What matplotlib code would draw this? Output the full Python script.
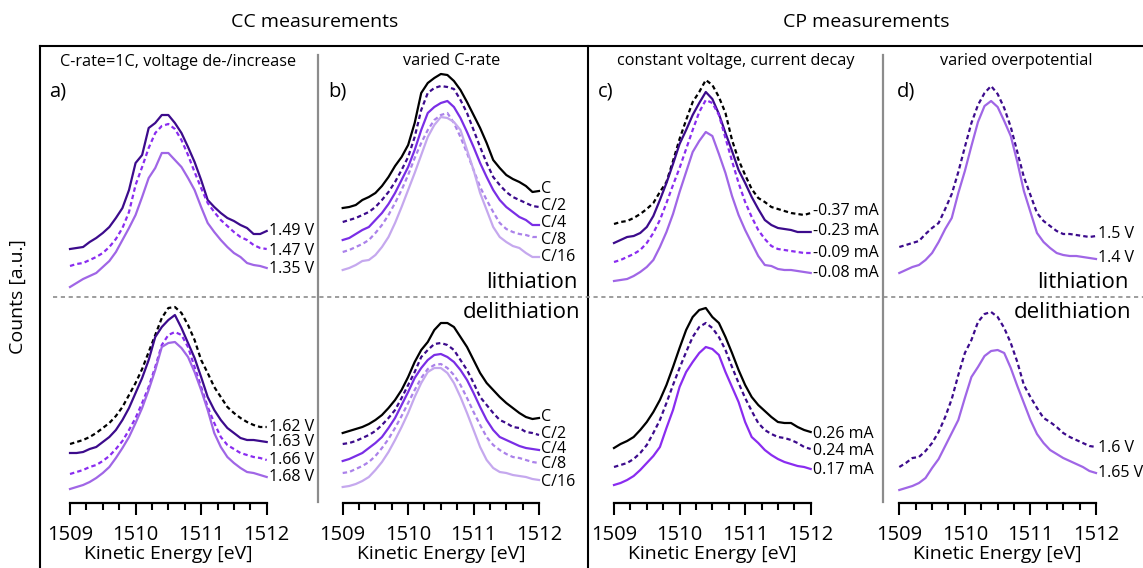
import numpy as np
import matplotlib
matplotlib.use("Agg")
import matplotlib.pyplot as plt
from matplotlib.lines import Line2D

plt.rcParams['font.family'] = ['Open Sans', 'DejaVu Sans']

W, H = 1143, 568

# energy grid, 0.1 eV steps
energy = np.linspace(1509, 1512, 31)

# ---- panel a (C-rate = 1C) ----
a_li_149 = [48, 49, 50, 55, 59, 64, 70, 79, 89, 107, 134, 142, 169, 174, 182, 182,
            174, 164, 150, 135, 117, 97, 90, 84, 79, 76, 72, 69, 63, 63, 66]
a_li_147 = [31, 33, 34, 37, 40, 44, 50, 58, 69, 85, 112, 130, 149, 164, 171, 173,
            168, 157, 142, 125, 109, 94, 85, 77, 71, 65, 60, 57, 52, 49, 48]
a_li_135 = [10, 14, 18, 21, 24, 30, 36, 45, 57, 69, 82, 100, 119, 129, 144, 144,
            137, 130, 119, 107, 90, 74, 65, 57, 50, 44, 40, 34, 32, 31, 29]
a_de_162 = [59, 61, 63, 66, 70, 75, 80, 87, 96, 108, 120, 134, 151, 168, 185, 195,
            196, 190, 178, 163, 143, 130, 116, 106, 96, 90, 85, 81, 78, 76, 76]
a_de_163 = [50, 50, 51, 54, 56, 61, 66, 73, 83, 95, 110, 125, 143, 166, 176, 183,
            188, 175, 160, 145, 126, 106, 93, 83, 75, 70, 65, 63, 63, 62, 61]
a_de_166 = [29, 31, 33, 36, 38, 42, 47, 54, 62, 73, 85, 100, 116, 136, 158, 168,
            171, 168, 156, 136, 116, 96, 80, 66, 58, 54, 50, 48, 46, 45, 43]
a_de_168 = [14, 16, 18, 21, 25, 30, 36, 45, 55, 66, 80, 95, 113, 133, 156, 160,
            161, 155, 146, 131, 113, 93, 70, 56, 46, 40, 35, 31, 30, 28, 26]

# ---- panel b (varied C-rate) ----
b_li_c1 = [89, 90, 92, 97, 100, 104, 111, 120, 131, 140, 152, 174, 204, 214, 219, 223,
           222, 216, 207, 195, 182, 169, 154, 137, 129, 122, 118, 115, 111, 105, 106]
b_li_c2 = [75, 77, 79, 82, 85, 90, 97, 105, 115, 127, 140, 160, 187, 204, 209, 211,
           210, 208, 197, 184, 167, 150, 134, 120, 112, 105, 100, 97, 94, 91, 90]
b_li_c4 = [57, 59, 63, 67, 70, 77, 84, 93, 104, 117, 130, 147, 167, 184, 190, 194,
           196, 190, 179, 165, 150, 134, 120, 107, 97, 90, 85, 80, 77, 72, 72]
b_li_c8 = [45, 47, 50, 53, 57, 64, 72, 82, 94, 107, 122, 139, 154, 167, 177, 182,
           184, 174, 160, 144, 127, 110, 97, 85, 74, 68, 65, 63, 62, 60, 60]
b_li_c16 = [27, 29, 32, 36, 37, 42, 50, 60, 74, 90, 107, 124, 142, 160, 172, 180,
            179, 175, 167, 147, 127, 104, 87, 70, 60, 55, 51, 49, 44, 40, 40]
b_de_c1 = [70, 72, 74, 76, 79, 83, 88, 95, 103, 113, 126, 141, 153, 161, 173, 180,
           180, 176, 166, 156, 143, 130, 120, 113, 106, 100, 95, 90, 86, 84, 85]
b_de_c2 = [59, 60, 62, 65, 68, 72, 78, 85, 93, 105, 118, 131, 146, 153, 159, 160,
           158, 153, 143, 133, 120, 106, 98, 90, 83, 80, 76, 75, 71, 70, 68]
b_de_c4 = [42, 44, 47, 50, 55, 60, 66, 75, 85, 98, 111, 125, 135, 143, 148, 149,
           146, 141, 133, 123, 110, 96, 83, 73, 66, 63, 60, 57, 55, 54, 53]
b_de_c8 = [30, 31, 34, 37, 41, 47, 55, 64, 75, 87, 100, 113, 125, 134, 138, 139,
           135, 128, 118, 105, 91, 78, 66, 58, 53, 49, 46, 45, 43, 41, 40]
b_de_c16 = [16, 17, 19, 22, 26, 33, 41, 51, 63, 76, 90, 106, 120, 131, 135, 135,
            130, 120, 106, 90, 73, 56, 43, 35, 31, 30, 28, 27, 26, 24, 23]

# ---- panel c (constant voltage, current decay) ----
c_li_037 = [73, 75, 76, 79, 83, 88, 94, 105, 115, 136, 158, 177, 195, 205, 217, 212,
            200, 184, 157, 137, 122, 108, 99, 95, 90, 88, 86, 84, 83, 82, 84]
c_li_023 = [54, 57, 60, 61, 64, 70, 81, 97, 114, 133, 153, 167, 182, 194, 205, 198,
            183, 164, 146, 127, 114, 100, 88, 77, 72, 69, 68, 67, 65, 65, 65]
c_li_009 = [35, 37, 40, 43, 47, 54, 64, 77, 94, 112, 129, 148, 167, 185, 197, 194,
            182, 159, 136, 114, 95, 80, 67, 58, 51, 48, 47, 46, 45, 44, 44]
c_li_008 = [16, 17, 18, 21, 25, 30, 37, 50, 65, 83, 105, 125, 145, 156, 165, 161,
            143, 124, 101, 82, 67, 54, 41, 32, 31, 28, 27, 27, 26, 25, 24]
c_de_026 = [55, 59, 62, 66, 73, 81, 91, 103, 118, 136, 155, 173, 186, 193, 195, 186,
            180, 166, 150, 133, 118, 106, 98, 92, 86, 81, 80, 80, 76, 73, 71]
c_de_024 = [36, 38, 40, 44, 50, 58, 70, 83, 100, 118, 135, 151, 166, 176, 180, 175,
            166, 153, 136, 120, 105, 92, 80, 73, 69, 66, 65, 63, 60, 56, 54]
c_de_017 = [18, 20, 23, 27, 33, 40, 47, 56, 75, 93, 116, 131, 141, 150, 156, 154,
            148, 131, 116, 101, 81, 66, 60, 53, 48, 44, 41, 39, 37, 36, 34]

# ---- panel d (varied overpotential) ----
d_li_15 = [50, 52, 54, 56, 63, 69, 74, 88, 103, 125, 150, 174, 192, 204, 211, 203,
           189, 170, 145, 120, 102, 84, 76, 71, 66, 63, 63, 62, 61, 60, 61]
d_li_14 = [24, 27, 30, 32, 37, 44, 55, 68, 79, 104, 126, 151, 175, 191, 196, 190,
           176, 161, 135, 106, 85, 64, 55, 49, 44, 42, 41, 41, 40, 39, 38]
d_de_16 = [36, 40, 45, 46, 52, 60, 71, 86, 104, 128, 150, 163, 181, 189, 191, 186,
           175, 160, 141, 118, 106, 95, 85, 81, 76, 70, 66, 63, 60, 57, 56]
d_de_165 = [13, 15, 17, 20, 25, 35, 44, 57, 70, 83, 105, 126, 136, 147, 152, 153,
            150, 135, 117, 100, 83, 69, 60, 53, 49, 45, 42, 39, 36, 32, 30]

BLACK = '#000000'
DARK = '#3c0b8c'
MID = '#8a2cf0'
LIGHT = '#a066e6'
VIOLET = '#7a2ee6'
PALE = '#ab82ea'
PALEST = '#c5a8ee'

SOLID = '-'
DASH = (0, (2.0, 1.4))

# (values, label, colour, style, label shift in px)
panels = {
    ('a', 'top'): [(a_li_149, '1.49 V', DARK, SOLID, 0),
                   (a_li_147, '1.47 V', MID, DASH, -2),
                   (a_li_135, '1.35 V', LIGHT, SOLID, -1)],
    ('a', 'bot'): [(a_de_162, '1.62 V', BLACK, DASH, 0),
                   (a_de_163, '1.63 V', DARK, SOLID, 0),
                   (a_de_166, '1.66 V', MID, DASH, 0),
                   (a_de_168, '1.68 V', LIGHT, SOLID, 0)],
    ('b', 'top'): [(b_li_c1, 'C', BLACK, SOLID, 2),
                   (b_li_c2, 'C/2', DARK, DASH, 1),
                   (b_li_c4, 'C/4', VIOLET, SOLID, 2),
                   (b_li_c8, 'C/8', PALE, DASH, -3),
                   (b_li_c16, 'C/16', PALEST, SOLID, 0)],
    ('b', 'bot'): [(b_de_c1, 'C', BLACK, SOLID, 1),
                   (b_de_c2, 'C/2', DARK, DASH, 1),
                   (b_de_c4, 'C/4', VIOLET, SOLID, 1),
                   (b_de_c8, 'C/8', PALE, DASH, -1),
                   (b_de_c16, 'C/16', PALEST, SOLID, -2)],
    ('c', 'top'): [(c_li_037, '-0.37 mA', BLACK, DASH, 2),
                   (c_li_023, '-0.23 mA', DARK, SOLID, 1),
                   (c_li_009, '-0.09 mA', MID, DASH, 0),
                   (c_li_008, '-0.08 mA', LIGHT, SOLID, 0)],
    ('c', 'bot'): [(c_de_026, '0.26 mA', BLACK, SOLID, -2),
                   (c_de_024, '0.24 mA', DARK, DASH, -2),
                   (c_de_017, '0.17 mA', MID, SOLID, -1)],
    ('d', 'top'): [(d_li_15, '1.5 V', DARK, DASH, 2),
                   (d_li_14, '1.4 V', LIGHT, SOLID, 1)],
    ('d', 'bot'): [(d_de_16, '1.6 V', DARK, DASH, -1),
                   (d_de_165, '1.65 V', LIGHT, SOLID, 0)],
}

# pixel extents of the energy axis in each column
col_px = {'a': (70, 266.7), 'b': (342.7, 539), 'c': (614, 810.7), 'd': (899.3, 1096)}
row_px = {'top': (60, 297), 'bot': (297, 503)}

fig = plt.figure(figsize=(W / 100, H / 100), dpi=100)


def rect(x0, x1, y0, y1):
    return [x0 / W, 1 - y1 / H, (x1 - x0) / W, (y1 - y0) / H]


for (col, row), curves in panels.items():
    x0, x1 = col_px[col]
    y0, y1 = row_px[row]
    ax = fig.add_axes(rect(x0, x1, y0, y1))
    ax.set_xlim(1509, 1512)
    ax.set_ylim(0, y1 - y0)
    ax.patch.set_visible(False)
    for s in ['top', 'right', 'left']:
        ax.spines[s].set_visible(False)
    ax.set_yticks([])
    for vals, lab, colr, ls, dy in curves:
        ax.plot(energy, vals, color=colr, linestyle=ls, lw=1.6, clip_on=False)
        ax.annotate(lab, xy=(energy[-1], vals[-1]), xytext=(1.5, dy * 0.72),
                    textcoords='offset points', ha='left', va='center',
                    fontsize=11.5, annotation_clip=False)
    if row == 'bot':
        ax.spines['bottom'].set_linewidth(1.6)
        ax.set_xticks([1509, 1510, 1511, 1512])
        ax.set_xticks(np.arange(1509, 1512.01, 0.25), minor=True)
        ax.tick_params(axis='x', which='major', direction='out', length=8.5,
                       width=1.5, labelsize=14.5, pad=7)
        ax.tick_params(axis='x', which='minor', direction='out', length=5, width=1.5)
        ax.set_xlabel('Kinetic Energy [eV]', fontsize=14, labelpad=0)
    else:
        ax.spines['bottom'].set_visible(False)
        ax.set_xticks([])


def fline(xs, ys, **kw):
    fig.add_artist(Line2D([x / W for x in xs], [1 - y / H for y in ys], **kw))


# frame
fline([40, W], [46, 46], color='black', lw=1.5)
fline([40, 40], [46, H], color='black', lw=1.5)
fline([588, 588], [46, H], color='black', lw=1.5)
fline([318, 318], [55, 502], color='#8c8c8c', lw=1.6)
fline([883, 883], [55, 502], color='#8c8c8c', lw=1.6)
fline([53, W], [297, 297], color='#8c8c8c', lw=1.2, linestyle=(0, (2.5, 2.2)))


def ftext(x, y, s, **kw):
    fig.text(x / W, 1 - y / H, s, **kw)


ftext(315, 22, 'CC measurements', fontsize=14, ha='center', va='center')
ftext(866, 22, 'CP measurements', fontsize=14, ha='center', va='center')
ftext(178, 62, 'C-rate=1C, voltage de-/increase', fontsize=11.7, ha='center', va='center')
ftext(452, 61, 'varied C-rate', fontsize=11.7, ha='center', va='center')
ftext(736, 61, 'constant voltage, current decay', fontsize=11.7, ha='center', va='center')
ftext(1016, 61, 'varied overpotential', fontsize=11.7, ha='center', va='center')
for lab, x in [('a)', 49), ('b)', 328), ('c)', 598), ('d)', 897)]:
    ftext(x, 92, lab, fontsize=14.5, ha='left', va='center')
ftext(578, 282, 'lithiation', fontsize=16, ha='right', va='center')
ftext(580, 313, 'delithiation', fontsize=16, ha='right', va='center')
ftext(1129, 282, 'lithiation', fontsize=16, ha='right', va='center')
ftext(1131, 313, 'delithiation', fontsize=16, ha='right', va='center')
ftext(18, 297, 'Counts [a.u.]', fontsize=14, rotation=90, ha='center', va='center')

fig.savefig('out.png', dpi=100)
